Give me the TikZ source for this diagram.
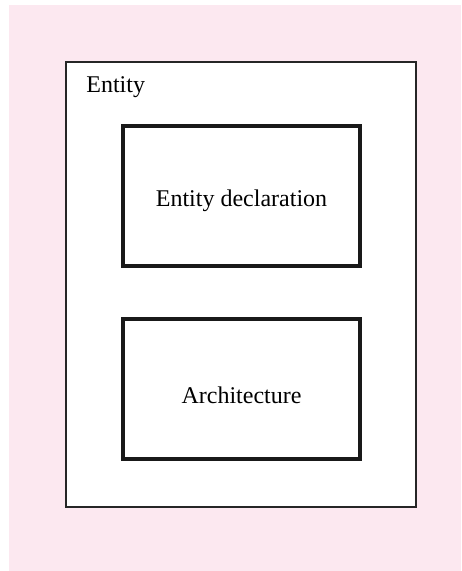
\documentclass[tikz,border=0pt]{standalone}
\usepackage{fontspec}
\setmainfont{Liberation Serif}
\usetikzlibrary{positioning}
\definecolor{bgpink}{RGB}{252,232,240}

\begin{document}
\begin{tikzpicture}[x=0.5pt,y=-0.5pt]
\tikzset{
  frame/.style={draw=black!85, line width=0.75pt, fill=white, inner sep=0pt,
    minimum width=175pt, minimum height=222.5pt},
  part/.style={draw=black!90, line width=2pt, inner sep=0pt, text depth=0pt,
    minimum width=118.5pt, minimum height=70pt, font=\fontsize{12}{14}\selectfont}
}
\useasboundingbox (0,0) rectangle (461,571);
\fill[bgpink] (9,5) rectangle (461,571);

\node[frame] (entity) at (241,284.5) {};
\node[anchor=base west, font=\fontsize{12}{14}\selectfont, inner sep=0pt] (title) at (86,93) {Entity};

\node[part, text height=11pt] (decl) at (241.5,196) {Entity declaration};
\node[part, text height=14.5pt, below=24.5pt of decl] (arch) {Architecture};
\end{tikzpicture}
\end{document}
